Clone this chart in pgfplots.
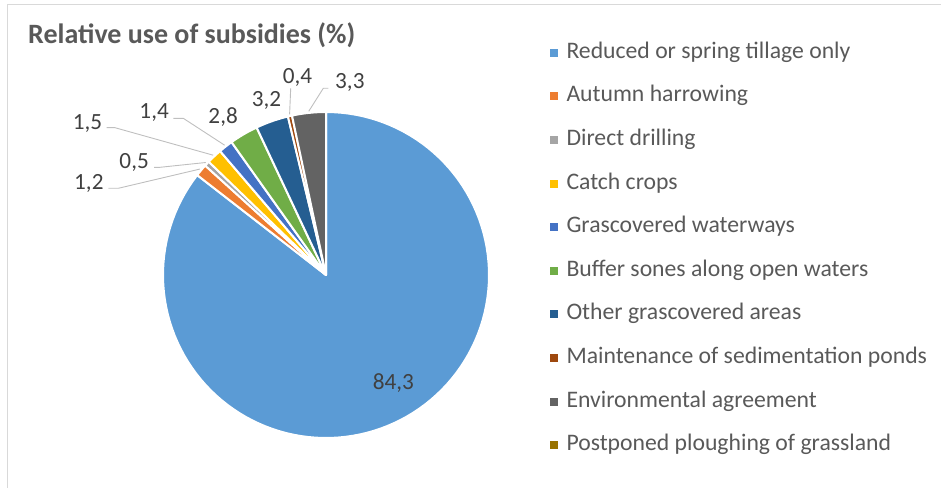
\documentclass[border=0pt]{standalone}
\usepackage{pgfplots}
\pgfplotsset{compat=1.18}
\usepackage{fontspec}
\setmainfont{Carlito}

% Office palette
\definecolor{cReduced}{HTML}{5B9BD5}
\definecolor{cAutumn}{HTML}{ED7D31}
\definecolor{cDirect}{HTML}{A5A5A5}
\definecolor{cCatch}{HTML}{FFC000}
\definecolor{cWaterways}{HTML}{4472C4}
\definecolor{cBuffer}{HTML}{70AD47}
\definecolor{cOtherGrass}{HTML}{255E91}
\definecolor{cPonds}{HTML}{9E480E}
\definecolor{cEnv}{HTML}{636363}
\definecolor{cPostponed}{HTML}{997300}
\definecolor{textgray}{HTML}{595959}
\definecolor{labelgray}{HTML}{404040}
\definecolor{leadergray}{HTML}{BFBFBF}
\definecolor{framegray}{HTML}{D9D9D9}

\newcommand\legendfont{\fontsize{23.7bp}{28bp}\selectfont}
\newcommand\labelfont{\fontsize{23.2bp}{28bp}\selectfont}

% shares in percent, in legend order
\def\vA{84.3}\def\vB{1.2}\def\vC{0.5}\def\vD{1.5}\def\vE{1.4}
\def\vF{2.8}\def\vG{3.2}\def\vH{0.4}\def\vI{3.3}\def\vJ{0}

% start/end angles of each slice, clockwise from 12 o'clock
\pgfmathsetmacro\pietotal{\vA+\vB+\vC+\vD+\vE+\vF+\vG+\vH+\vI+\vJ}
\gdef\cum{0}
\newcommand\prepslice[2]{%
  \pgfmathsetmacro\tmpA{90-\cum/\pietotal*360}%
  \pgfmathsetmacro\tmpC{\cum+#2}%
  \pgfmathsetmacro\tmpB{90-\tmpC/\pietotal*360}%
  \expandafter\xdef\csname angA#1\endcsname{\tmpA}%
  \expandafter\xdef\csname angB#1\endcsname{\tmpB}%
  \xdef\cum{\tmpC}%
}
\prepslice{A}{\vA}\prepslice{B}{\vB}\prepslice{C}{\vC}
\prepslice{D}{\vD}\prepslice{E}{\vE}\prepslice{F}{\vF}
\prepslice{G}{\vG}\prepslice{H}{\vH}\prepslice{I}{\vI}

\newcommand\pieslice[2]{%
  \edef\doslice{\noexpand\addplot[fill=#2, draw=white, line width=2bp,
      line join=round, domain=\csname angB#1\endcsname:\csname angA#1\endcsname,
      samples=120, variable=\noexpand\t]
      ({cos(\noexpand\t)},{sin(\noexpand\t)}) -- (axis cs:0,0) -- cycle;}%
  \doslice
}

\begin{document}
\begin{tikzpicture}
\path[use as bounding box] (0,0) rectangle (941bp,488bp);
\draw[framegray, line width=1.2bp] (7.5bp,-20bp) -- (7.5bp,483.5bp) -- (980bp,483.5bp);

\node[anchor=base west, inner sep=0pt, text=textgray,
      font=\fontsize{28bp}{32bp}\selectfont\bfseries]
  at (28bp,444.7bp) {Relative use of subsidies (\%)};

\begin{axis}[
  at={(163bp,50bp)}, anchor=south west,
  scale only axis, width=326bp, height=326bp,
  xmin=-1, xmax=1, ymin=-1, ymax=1,
  hide axis, clip=false,
  legend image code/.code={\fill[draw=none] (0bp,-4bp) rectangle (8bp,4bp);},
  legend cell align=left,
  legend style={at={(axis description cs:1.1871,1.2138)}, anchor=north west,
    draw=none, fill=none, inner sep=0pt, outer sep=0pt, row sep=22.6bp,
    font=\legendfont, text=textgray,
    nodes={inner sep=0pt, text height=16bp, text depth=5bp},
    /tikz/every odd column/.append style={column sep=8.5bp}},
]
\pieslice{A}{cReduced}    \addlegendentry{Reduced or spring tillage only}
\pieslice{B}{cAutumn}     \addlegendentry{Autumn harrowing}
\pieslice{C}{cDirect}     \addlegendentry{Direct drilling}
\pieslice{D}{cCatch}      \addlegendentry{Catch crops}
\pieslice{E}{cWaterways}  \addlegendentry{Grascovered waterways}
\pieslice{F}{cBuffer}     \addlegendentry{Buffer sones along open waters}
\pieslice{G}{cOtherGrass} \addlegendentry{Other grascovered areas}
\pieslice{H}{cPonds}      \addlegendentry{Maintenance of sedimentation ponds}
\pieslice{I}{cEnv}        \addlegendentry{Environmental agreement}
\addlegendimage{fill=cPostponed, draw=none}
\addlegendentry{Postponed ploughing of grassland}

% leader lines
\draw[leadergray, line width=0.9bp] (axis cs:-1.3356,0.5319) -- (axis cs:-1.2742,0.5319) -- (axis cs:-0.7740,0.6498);
\draw[leadergray, line width=0.9bp] (axis cs:-1.0552,0.6607) -- (axis cs:-1.0184,0.6607) -- (axis cs:-0.7376,0.6902);
\draw[leadergray, line width=0.9bp] (axis cs:-1.3454,0.9037) -- (axis cs:-1.2945,0.9037) -- (axis cs:-0.6924,0.7350);
\draw[leadergray, line width=0.9bp] (axis cs:-0.9368,0.9613) -- (axis cs:-0.8755,0.9613) -- (axis cs:-0.6218,0.7962);
\draw[leadergray, line width=0.9bp] (axis cs:-0.2166,1.1454) -- (axis cs:-0.2233,0.9851);
\draw[leadergray, line width=0.9bp] (axis cs:0.0141,1.1454) -- (axis cs:-0.0166,1.1454) -- (axis cs:-0.1058,1.0045);

% data labels
\begin{scope}[every node/.style={anchor=base west, inner sep=0pt, text=labelgray, font=\labelfont}]
\node at (axis cs:0.2865,-0.7055) {84,3};
\node at (axis cs:-1.5460,0.5215) {1,2};
\node at (axis cs:-1.2681,0.6546) {0,5};
\node at (axis cs:-1.5540,0.8939) {1,5};
\node at (axis cs:-1.1454,0.9613) {1,4};
\node at (axis cs:-0.7221,0.9307) {2,8};
\node at (axis cs:-0.4558,1.0325) {3,2};
\node at (axis cs:-0.2656,1.1718) {0,4};
\node at (axis cs:0.0552,1.1454) {3,3};
\end{scope}
\end{axis}
\end{tikzpicture}
\end{document}
